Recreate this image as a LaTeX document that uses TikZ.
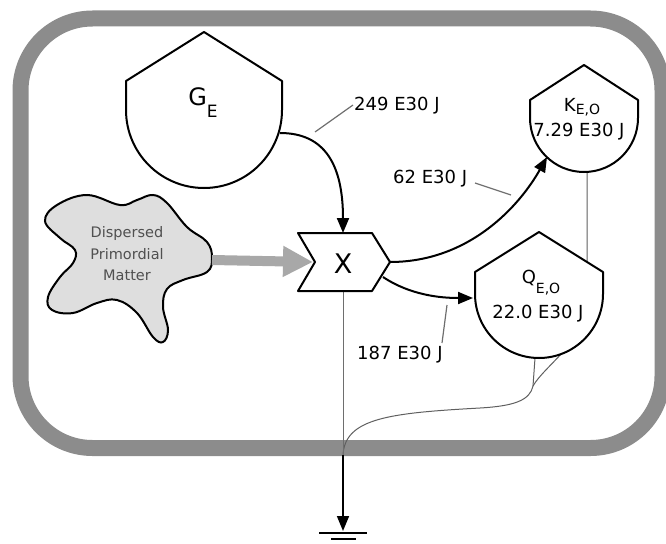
\documentclass[tikz,border=0pt]{standalone}
\usepackage{fontspec}
\setmainfont{DejaVu Sans}
\usetikzlibrary{arrows.meta}
\definecolor{framegray}{RGB}{140,140,140}
\definecolor{heatgray}{RGB}{95,95,95}
\definecolor{leadergray}{RGB}{110,110,110}
\definecolor{cloudfill}{RGB}{222,222,222}
\definecolor{cloudtext}{RGB}{80,80,80}
\definecolor{inflow}{RGB}{168,168,168}
\tikzset{
  shapeline/.style={draw=black, line width=2pt, fill=white, line join=round},
  flow/.style={draw=black, line width=2pt, -{Triangle[length=15pt,width=12pt]}},
  heat/.style={draw=heatgray, line width=1pt},
  leader/.style={draw=leadergray, line width=1.2pt},
  lbl/.style={font=\fontsize{18}{20}\selectfont, inner sep=0pt, anchor=base west},
  ctr/.style={inner sep=0pt, anchor=base},
}
\begin{document}
\begin{tikzpicture}[x=1pt,y=-1pt]
\path[use as bounding box] (0,0) rectangle (666,543);
% frame
\draw[draw=framegray, line width=16pt, rounded corners=72pt] (20.5,18.5) rectangle (662.5,448);

% named anchor points
\coordinate (gOut) at (280,133);
\coordinate (xTop) at (343,233);
\coordinate (xRight) at (390,262);
\coordinate (xLowR) at (383,277);
\coordinate (xNotch) at (313,262);
\coordinate (xBot) at (343,291);
\coordinate (kIn) at (547,157);
\coordinate (kBot) at (587,172);
\coordinate (qIn) at (473,298);
\coordinate (qBot) at (535,358);
\coordinate (qJoin) at (533,386);
\coordinate (hMid) at (480,408);
\coordinate (join) at (343,455);
\coordinate (gnd) at (343,531);
\coordinate (cloudE) at (212,260);

% heat lines
\draw[heat] (kBot) -- (587,300) .. controls (587,340) and (545,365) .. (qJoin);
\draw[heat] (qBot) -- (qJoin) .. controls (530,400) and (515,406) .. (hMid)
  .. controls (390,413) and (345,418) .. (join);
\draw[draw=leadergray, line width=1pt] (xBot) -- (join);

% G_E
\draw[shapeline] (204,32) -- (282,81) -- (282,110) .. controls (282,153.1) and (247.1,188) .. (204,188)
  .. controls (160.9,188) and (126,153.1) .. (126,110) -- (126,81) -- cycle;
\node[ctr] (gLabel) at (203,105) {\fontsize{24}{24}\selectfont G\raisebox{-12pt}{\fontsize{17}{17}\selectfont E}};

% K_E,O
\draw[shapeline] (584,65) -- (638,100) -- (638,118) .. controls (638,147.8) and (613.8,172) .. (584,172)
  .. controls (554.2,172) and (530,147.8) .. (530,118) -- (530,100) -- cycle;
\node[ctr] (kLabel) at (582,111) {\fontsize{18}{18}\selectfont K\raisebox{-3pt}{\fontsize{14}{14}\selectfont E,O}};
\node[ctr] (kVal) at (579,136) {\fontsize{18}{18}\selectfont 7.29 E30 J};

% Q_E,O
\draw[shapeline] (539,232) -- (603,272) -- (603,294) .. controls (603,329.3) and (574.3,358) .. (539,358)
  .. controls (503.7,358) and (475,329.3) .. (475,294) -- (475,272) -- cycle;
\node[ctr] (qLabel) at (541,283) {\fontsize{18}{18}\selectfont Q\raisebox{-10pt}{\fontsize{14}{14}\selectfont E,O}};
\node[ctr] (qVal) at (538,318) {\fontsize{18}{18}\selectfont 22.0 E30 J};

% X interaction
\draw[shapeline] (298,233) -- (372,233) -- (390,262) -- (372,291) -- (298,291) -- (315,262) -- cycle;
\node[inner sep=0pt, font=\fontsize{27}{27}\selectfont] (X) at (343,263.5) {X};

% cloud
\draw[draw=black, line width=2pt, fill=cloudfill] plot[smooth cycle, tension=0.65] coordinates {
  (45,221) (57,205) (87,195) (120,205) (137,200) (153,195) (167,203) (187,227) (207,242)
  (212,258) (207,272) (183,280) (167,289) (163,307) (168,330) (163,342) (153,337)
  (137,313) (117,300) (97,303) (73,313) (52,310) (48,297) (60,277) (73,263) (75,250) (60,238)};
\node[align=center, text=cloudtext, font=\fontsize{14.5}{21.5}\selectfont, inner sep=0pt] (dpm) at (127,254) {Dispersed\\Primordial\\Matter};

% inflow arrow
\draw[draw=inflow, line width=10pt, -{Triangle[length=30pt,width=29pt]}] (cloudE) -- (xNotch);

% flows
\draw[flow] (gOut) .. controls (325,133) and (343,165) .. (xTop);
\draw[flow] (xRight) .. controls (470,262) and (520,205) .. (kIn);
\draw[flow] (xLowR) .. controls (410,295) and (440,298) .. (qIn);
\draw[draw=black, line width=1.6pt, -{Triangle[length=15pt,width=12pt]}] (join) -- (gnd);

% ground
\coordinate (g1) at (319,533); \coordinate (g2) at (367,533);
\coordinate (g3) at (331,539); \coordinate (g4) at (356,539);
\draw[line width=2pt] (g1) -- (g2);
\draw[line width=2pt] (g3) -- (g4);

% labels and leaders
\node[lbl] (l249) at (354,110) {249 E30 J};
\draw[leader] (315,132) -- (353,105);
\node[lbl] (l62) at (393,183) {62 E30 J};
\draw[leader] (475,183) -- (511,195);
\node[lbl] (l187) at (357,359) {187 E30 J};
\draw[leader] (442,343) -- (447,305);
\end{tikzpicture}
\end{document}
